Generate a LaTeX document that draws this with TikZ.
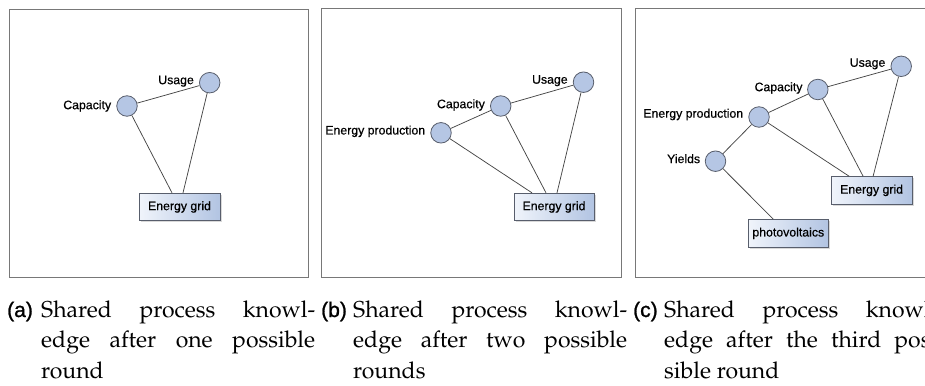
\documentclass[tikz,border=0pt]{standalone}
\usepackage[T1,TU]{fontenc}
\usepackage{fontspec}
\newfontfamily\nodefont[FakeBold=0.5]{Liberation Sans}
\newfontfamily\labelfont[FakeBold=1.2]{Liberation Sans}
\usetikzlibrary{shadows}

\definecolor{conceptfill}{RGB}{181,198,228}
\definecolor{conceptline}{RGB}{88,94,108}
\definecolor{boxlight}{RGB}{240,244,251}
\definecolor{boxdark}{RGB}{178,196,226}
\definecolor{framegray}{RGB}{120,120,120}
\definecolor{edgegray}{RGB}{70,70,70}

\tikzset{
  concept/.style={circle, draw=conceptline, fill=conceptfill, line width=0.8pt,
    minimum size=20.5pt, inner sep=0pt},
  tag/.style={font=\nodefont\fontsize{12.3}{14}\selectfont, text=black, inner sep=0pt},
  entity/.style={rectangle, draw=conceptline, line width=0.8pt,
    left color=boxlight, right color=boxdark,
    minimum height=27.5pt, inner sep=0pt,
    font=\nodefont\fontsize{12.3}{14}\selectfont,
    drop shadow={shadow xshift=1.6pt, shadow yshift=-1.6pt, fill=black!25, opacity=0.6}},
  link/.style={draw=edgegray, line width=0.75pt},
  panel/.style={draw=framegray, line width=0.8pt},
  sublabel/.style={anchor=base west, inner sep=0pt,
    font=\labelfont\fontsize{21}{30}\selectfont},
  subtext/.style={anchor=base west, inner sep=0pt}
}

\newcommand{\captext}[1]{\parbox[t]{274pt}{\fontencoding{T1}\fontfamily{ppl}\fontsize{23}{30.5}\selectfont #1}}

\begin{document}
\begin{tikzpicture}[x=1pt,y=-1pt]
\useasboundingbox (0,0) rectangle (925,385);

% ---- panel frames
\draw[panel] (9.3,9.3) rectangle (308.3,277.3);
\draw[panel] (321.7,8.3) rectangle (621.7,277.3);
\draw[panel] (635,8.3) rectangle (935,277.3);

% ---- (a) one round
\node[concept, label={[tag, label distance=5pt]left:Capacity}] (capA) at (127,106) {};
\node[concept, label={[tag, label distance=5pt, yshift=1.5pt]left:Usage}] (useA) at (209.7,82.7) {};
\node[entity, minimum width=81pt] (gridA) at (179.5,207) {Energy grid};
\draw[link] (capA) -- (useA);
\draw[link] (capA) -- ([xshift=-7.5pt]gridA.north);
\draw[link] (useA) -- ([xshift=3.5pt]gridA.north);

% ---- (b) two rounds
\node[concept, label={[tag, label distance=5pt, yshift=1.5pt]left:Energy production}] (prodB) at (441,132.8) {};
\node[concept, label={[tag, label distance=5pt, yshift=1pt]left:Capacity}] (capB) at (500.7,106) {};
\node[concept, label={[tag, label distance=5pt, yshift=1.5pt]left:Usage}] (useB) at (583.5,82.2) {};
\node[entity, minimum width=80pt] (gridB) at (554,207) {Energy grid};
\draw[link] (prodB) -- (capB);
\draw[link] (capB) -- (useB);
\draw[link] (prodB) -- ([xshift=-22pt]gridB.north);
\draw[link] (capB) -- ([xshift=-8pt]gridB.north);
\draw[link] (useB) -- ([xshift=3pt]gridB.north);

% ---- (c) third round
\node[concept, label={[tag, label distance=5pt, yshift=2.5pt]left:Usage}] (useC) at (901.2,66.3) {};
\node[concept, label={[tag, label distance=4.5pt, yshift=1.5pt]left:Capacity}] (capC) at (817.8,89.5) {};
\node[concept, label={[tag, label distance=5pt, yshift=2.5pt]left:Energy production}] (prodC) at (759,117) {};
\node[concept, label={[tag, label distance=4.5pt, yshift=2.5pt]left:Yields}] (yieldC) at (715.5,161.2) {};
\node[entity, minimum width=81pt] (gridC) at (871.6,190.4) {Energy grid};
\node[entity, minimum width=80pt] (pvC) at (788.3,233.3) {photovoltaics};
\draw[link] (prodC) -- (capC);
\draw[link] (capC) -- (useC);
\draw[link] (prodC) -- (yieldC);
\draw[link] (prodC) -- ([xshift=-22.5pt]gridC.north);
\draw[link] (capC) -- ([xshift=-8.5pt]gridC.north);
\draw[link] (useC) -- ([xshift=1.5pt]gridC.north);
\draw[link] (yieldC) -- ([xshift=-15pt]pvC.north);

% ---- sub-captions
\node[sublabel] (labA) at (7,317) {(a)};
\node[subtext] (capTextA) at (41,317) {\captext{Shared process knowl-\linebreak edge after one possible\linebreak round}};
\node[sublabel] (labB) at (321,317) {(b)};
\node[subtext] (capTextB) at (353,317) {\captext{Shared process knowl-\linebreak edge after two possible\linebreak rounds}};
\node[sublabel] (labC) at (633,317) {(c)};
\node[subtext] (capTextC) at (664,317) {\captext{Shared process knowl-\linebreak edge after the third pos-\linebreak sible round}};
\end{tikzpicture}
\end{document}
